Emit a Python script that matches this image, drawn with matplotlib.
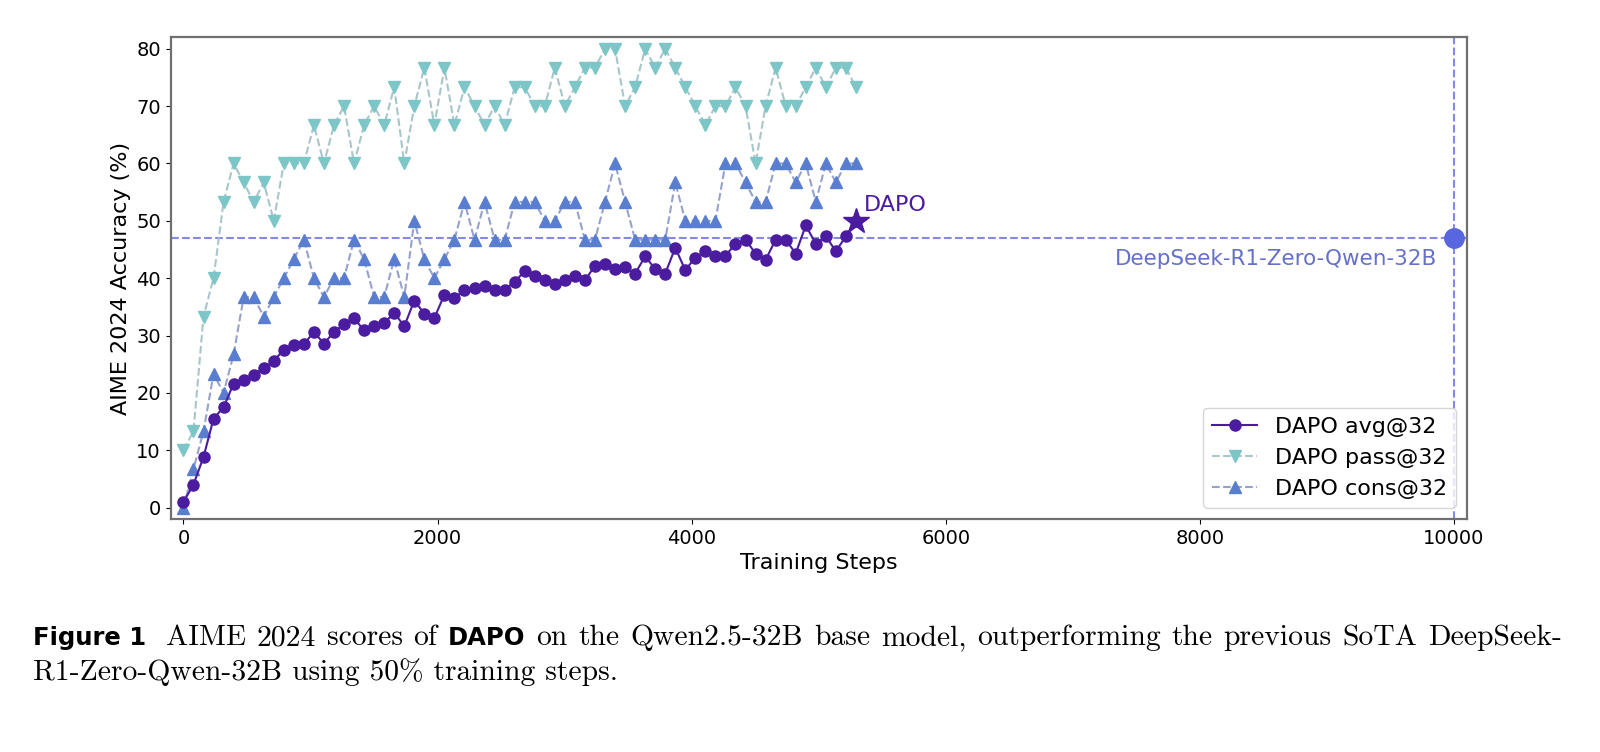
import numpy as np
import matplotlib
matplotlib.use("Agg")
import matplotlib.pyplot as plt

# evaluation points (about every 79 training steps)
steps = list(range(0, 68 * 79, 79))

avg_32 = [1.0, 4.0, 8.8, 15.5, 17.5, 21.6, 22.3, 23.2, 24.3, 25.6, 27.5, 28.3, 28.5,
          30.6, 28.6, 30.6, 32.0, 33.0, 30.9, 31.6, 32.1, 34.0, 31.6, 36.1, 33.8, 33.1,
          37.1, 36.6, 37.9, 38.3, 38.7, 37.9, 38.0, 39.4, 41.2, 40.4, 39.7, 38.9, 39.7,
          40.4, 39.6, 42.2, 42.4, 41.6, 41.9, 40.8, 43.8, 41.6, 40.8, 45.3, 41.4, 43.6,
          44.7, 43.9, 43.9, 46.0, 46.7, 44.3, 43.2, 46.7, 46.7, 44.3, 49.2, 46.0, 47.3,
          44.7, 47.3, 50.0]

pass_32 = [10, 13.3, 33.3, 40, 53.3, 60, 56.7, 53.3, 56.7, 50, 60, 60, 60, 66.7, 60,
           66.7, 70, 60, 66.7, 70, 66.7, 73.3, 60, 70, 76.7, 66.7, 76.7, 66.7, 73.3, 70,
           66.7, 70, 66.7, 73.3, 73.3, 70, 70, 76.7, 70, 73.3, 76.7, 76.7, 80, 80, 70,
           73.3, 80, 76.7, 80, 76.7, 73.3, 70, 66.7, 70, 70, 73.3, 70, 60, 70, 76.7, 70,
           70, 73.3, 76.7, 73.3, 76.7, 76.7, 73.3]

cons_32 = [0, 6.7, 13.3, 23.3, 20, 26.7, 36.7, 36.7, 33.3, 36.7, 40, 43.3, 46.7, 40,
           36.7, 40, 40, 46.7, 43.3, 36.7, 36.7, 43.3, 36.7, 50, 43.3, 40, 43.3, 46.7,
           53.3, 46.7, 53.3, 46.7, 46.7, 53.3, 53.3, 53.3, 50, 50, 53.3, 53.3, 46.7, 46.7,
           53.3, 60, 53.3, 46.7, 46.7, 46.7, 46.7, 56.7, 50, 50, 50, 50, 60, 60, 56.7,
           53.3, 53.3, 60, 60, 56.7, 60, 53.3, 60, 56.7, 60, 60]

ref_step = 10000
ref_score = 47.0
ref_name = "DeepSeek-R1-Zero-Qwen-32B"

purple = "#4b1ba0"
cyan = "#7cc6c8"
cyan_line = "#a8c6ca"
blue = "#5a7ecf"
blue_line = "#97a2cc"
ref_line = "#8489e2"
ref_dot = "#5866e0"
ref_text = "#6670c8"

fig = plt.figure(figsize=(16, 7.52), dpi=100)
ax = fig.add_axes([0.1067, 0.3098, 0.81, 0.6406])

ax.plot(steps, avg_32, "-o", color=purple, ms=8, lw=1.5, label="DAPO avg@32", zorder=4)
ax.plot(steps, pass_32, "--v", color=cyan_line, mfc=cyan, mec=cyan, ms=9, lw=1.5,
        label="DAPO pass@32", zorder=3)
ax.plot(steps, cons_32, "--^", color=blue_line, mfc=blue, mec=blue, ms=9, lw=1.5,
        label="DAPO cons@32", zorder=3)

ax.plot(steps[-1], avg_32[-1], marker="*", ms=19, color=purple, zorder=6)
ax.annotate("DAPO", (steps[-1], avg_32[-1]), xytext=(6, 4), textcoords="offset points",
            fontsize=16, color=purple, ha="left", va="bottom")

ax.axhline(ref_score, ls="--", color=ref_line, lw=1.5, zorder=2)
ax.axvline(ref_step, ls="--", color=ref_line, lw=1.5, zorder=2)
ax.plot(ref_step, ref_score, "o", ms=14, color=ref_dot, zorder=6, clip_on=False)
ax.annotate(ref_name, (ref_step, ref_score), xytext=(-12, -8), textcoords="offset points",
            ha="right", va="top", fontsize=15.5, color=ref_text)

ax.set_xlim(-100, 10100)
ax.set_ylim(-2, 82)
ax.set_xticks(range(0, 10001, 2000))
ax.set_yticks(range(0, 81, 10))
ax.tick_params(labelsize=14)
ax.set_xlabel("Training Steps", fontsize=16)
ax.set_ylabel("AIME 2024 Accuracy (%)", fontsize=16)
for sp in ax.spines.values():
    sp.set_color("#707070")
    sp.set_linewidth(1.6)

ax.legend(loc="lower right", fontsize=16)

# caption, typeset word by word so the first line is justified
bold = dict(family=["DejaVu Sans"], weight="bold")
serif = dict(family=["cmr10", "DejaVu Serif"])
r = fig.canvas.get_renderer()
W, H = fig.bbox.width, fig.bbox.height


def measure(s, size, style):
    t = fig.text(0, 0, s, fontsize=size, **style)
    w = t.get_window_extent(renderer=r).width
    t.remove()
    return w


line2 = "R1-Zero-Qwen-32B using 50% training steps."
size = 18 * 584 / measure(line2, 18, serif)

words1 = [("Figure 1", bold, 17.5)]
for w in "AIME 2024 scores of".split():
    words1.append((w, serif, size))
words1.append(("DAPO", bold, 17.5))
for w in "on the Qwen2.5-32B base model, outperforming the previous SoTA DeepSeek-".split():
    words1.append((w, serif, size))

widths = [measure(s, sz, st) for s, st, sz in words1]
x0, x1 = 33, 1562
gap = (x1 - x0 - sum(widths)) / (len(words1) - 1 + 0.8)
x = x0
for i, ((s, st, sz), w) in enumerate(zip(words1, widths)):
    fig.text(x / W, 1 - 645 / H, s, fontsize=sz, va="baseline", **st)
    x += w + gap
    if i == 0:
        x += 0.8 * gap

fig.text(x0 / W, 1 - 680 / H, line2, fontsize=size, va="baseline", **serif)

fig.savefig("out.png", dpi=100)
